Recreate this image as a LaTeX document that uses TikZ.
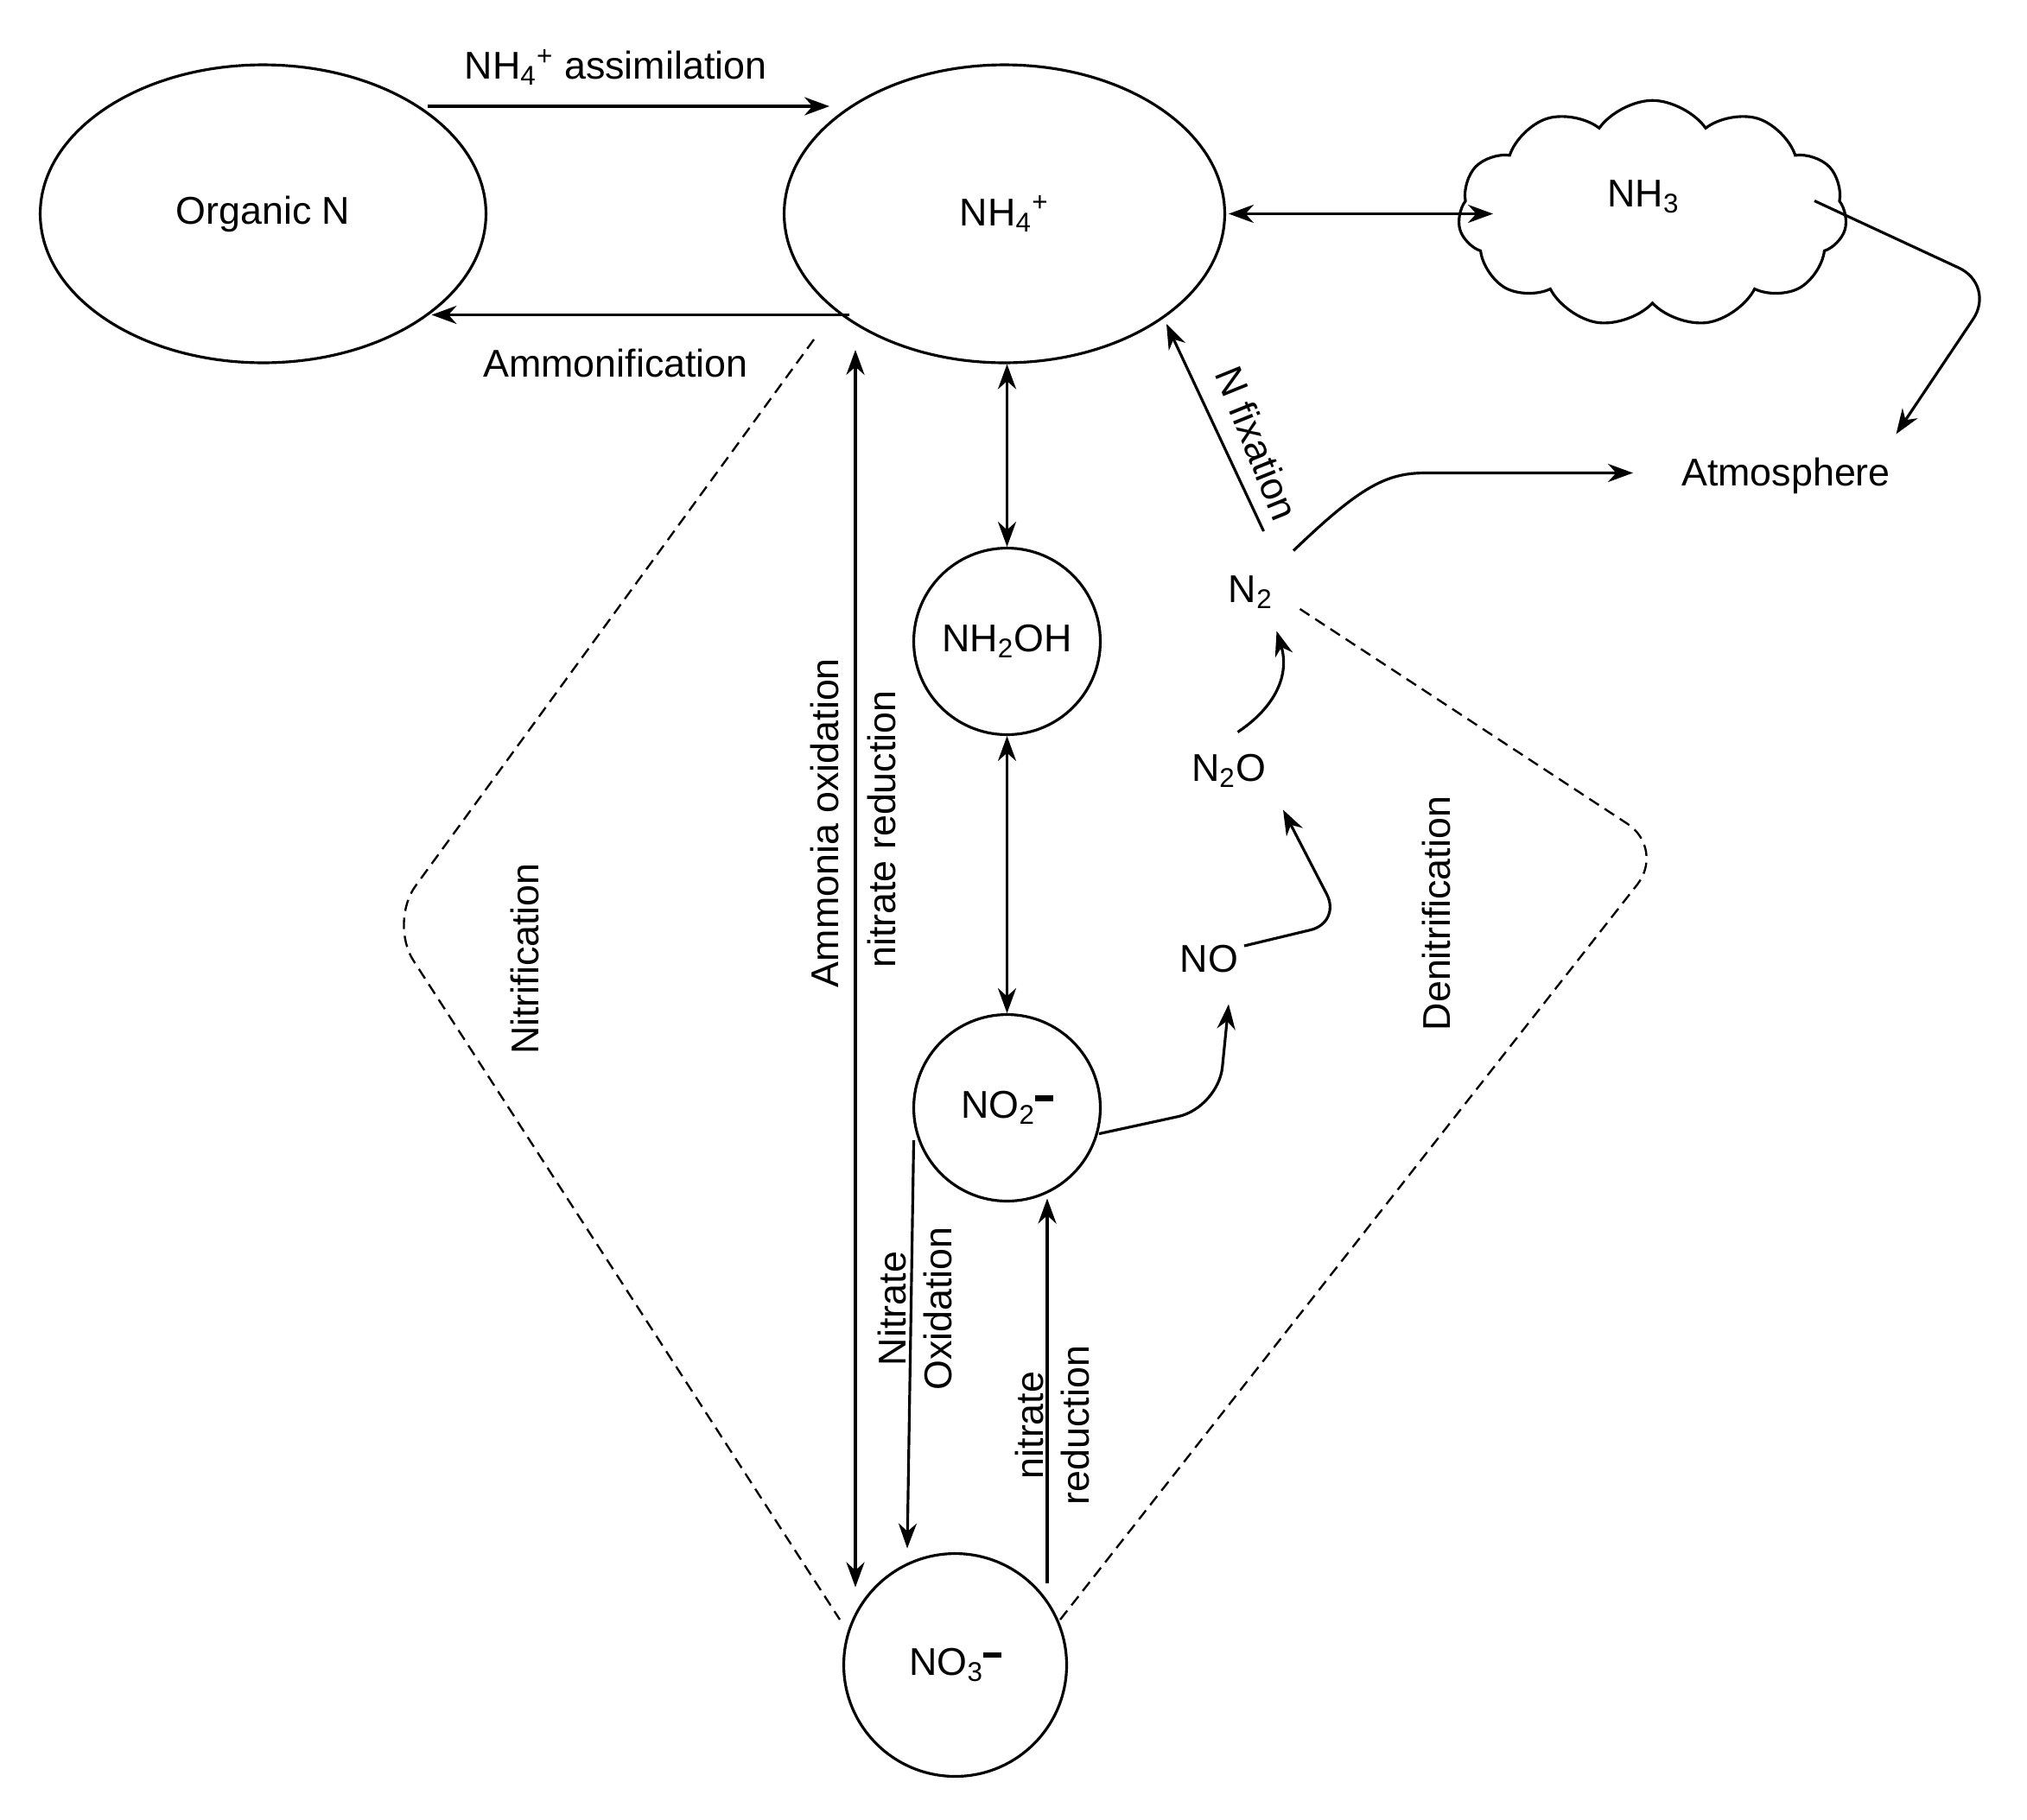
\documentclass[tikz,border=0pt]{standalone}
\usepackage{fontspec}
\setmainfont{Liberation Sans}
\usetikzlibrary{shapes.geometric,shapes.symbols,arrows.meta}
\newcommand{\mneg}{\rule[0.55ex]{0.45em}{0.14em}}
\newcommand{\sbs}[1]{\textsubscript{#1}}
\newcommand{\sps}[1]{\textsuperscript{#1}}
\begin{document}
\begin{tikzpicture}[x=0.02cm,y=-0.02cm,
  every node/.style={font=\fontsize{17}{20}\selectfont},
  ln/.style={line width=1.2pt},
  ar/.style={ln,-{Stealth[length=11pt,width=8pt]}},
  dar/.style={ln,{Stealth[length=11pt,width=8pt]}-{Stealth[length=11pt,width=8pt]}},
  circ/.style={circle,draw,ln,inner sep=0pt},
  ell/.style={ellipse,draw,ln,inner sep=0pt},
  dsh/.style={dash pattern=on 5pt off 3pt,line width=0.9pt,rounded corners=20pt},
  lbl/.style={inner sep=1pt}]
\useasboundingbox (0,0) rectangle (1564,1404);
\node[ell,minimum width=6.88cm,minimum height=4.6cm] (org) at (203,165) {Organic N};
\node[ell,minimum width=6.8cm,minimum height=4.6cm] (nh4) at (775,165) {NH\sbs{4}\sps{+}};
\node[cloud,draw,ln,cloud puffs=11,cloud puff arc=110,aspect=1.7,minimum width=6cm,minimum height=3.5cm] (nh3) at (1275,165) {};
\node (nh3t) at (1268,152) {NH\sbs{3}};
\node (atm) at (1378,367) {Atmosphere};
\node[circ,minimum size=2.88cm] (nh2oh) at (777,495) {NH\sbs{2}OH};
\node[circ,minimum size=2.88cm] (no2) at (777,855) {NO\sbs{2}\raisebox{0.3ex}{\mneg}};
\node[circ,minimum size=3.44cm] (no3) at (737,1285) {NO\sbs{3}\raisebox{0.3ex}{\mneg}};
\node (n2) at (965,457) {N\sbs{2}};
\node (n2o) at (948,595) {N\sbs{2}O};
\node (no) at (933,740) {NO};
\coordinate (a1) at (330,82); \coordinate (a2) at (640,82);
\draw[ar] (a1) -- (a2);
\node[lbl] (lass) at (475,52) {NH\sbs{4}\sps{+} assimilation};
\coordinate (b1) at (655,243); \coordinate (b2) at (333,243);
\draw[ar] (b1) -- (b2);
\node[lbl] (lamm) at (475,280) {Ammonification};
\coordinate (c1) at (948,165); \coordinate (c2) at (1152,165);
\draw[dar] (c1) -- (c2);
\coordinate (d1) at (1400,155); \coordinate (d2) at (1540,220); \coordinate (d3) at (1463,335);
\draw[ar,rounded corners=18pt] (d1) -- (d2) -- (d3);
\coordinate (e1) at (998,425); \coordinate (e3) at (1260,365);
\draw[ar] (e1) .. controls (1050,375) and (1070,365) .. (1100,365) -- (e3);
\coordinate (f1) at (975,410); \coordinate (f2) at (900,250);
\draw[ar] (f1) -- (f2);
\node[lbl,rotate=-68] (lfix) at (970,342) {N fixation};
\draw[dar] (nh4.south -| nh2oh) -- (nh2oh.north);
\draw[dar] (nh2oh.south) -- (no2.north);
\coordinate (g1) at (660,270); \coordinate (g2) at (660,1225);
\draw[dar] (g1) -- (g2);
\node[lbl,rotate=90] (lao) at (636,635) {Ammonia oxidation};
\node[lbl,rotate=90] (lnr) at (680,640) {nitrate reduction};
\coordinate (h0) at (848,875); \coordinate (h2) at (948,775);
\draw[ar,rounded corners=18pt] (h0) -- (940,855) -- (h2);
\coordinate (i1) at (960,730); \coordinate (i3) at (990,625);
\draw[ar,rounded corners=14pt] (i1) -- (1035,712) -- (i3);
\coordinate (j1) at (955,565); \coordinate (j3) at (985,487);
\draw[ar] (j1) .. controls (985,545) and (995,520) .. (j3);
\coordinate (k1) at (705,880); \coordinate (k2) at (700,1195);
\draw[ar] (k1) -- (k2);
\node[lbl,rotate=90,align=center] (lno) at (706,1010) {Nitrate\\Oxidation};
\coordinate (m1) at (808,1222); \coordinate (m2) at (808,925);
\draw[ar] (m1) -- (m2);
\node[lbl,rotate=90,align=center] (lnr2) at (812,1100) {nitrate\\reduction};
\node[lbl,rotate=90] (lnit) at (405,740) {Nitrification};
\node[lbl,rotate=90] (lden) at (1108,705) {Denitrification};
\coordinate (p1) at (628,262); \coordinate (p2) at (300,712); \coordinate (p3) at (648,1250);
\draw[dsh] (p1) -- (p2) -- (p3);
\coordinate (q1) at (1003,470); \coordinate (q2) at (1285,655); \coordinate (q3) at (818,1250);
\draw[dsh] (q1) -- (q2) -- (q3);
\end{tikzpicture}
\end{document}
